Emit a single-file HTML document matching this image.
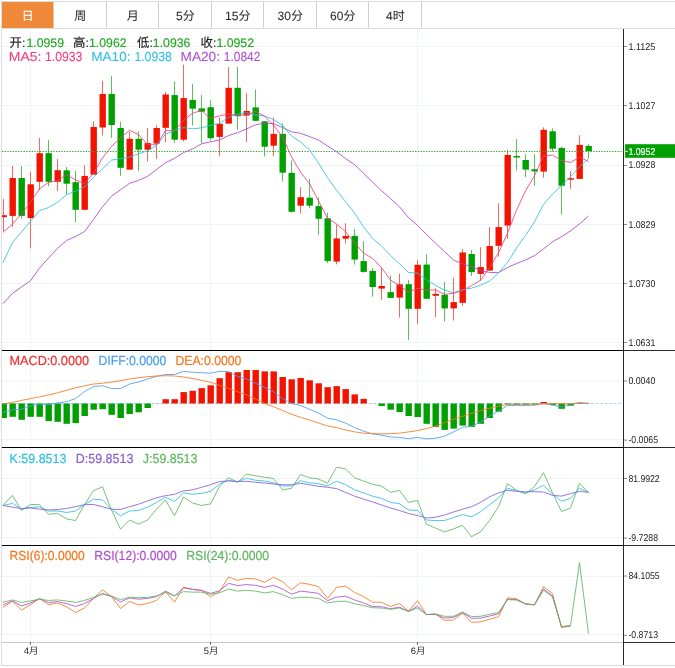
<!DOCTYPE html>
<html lang="zh-CN"><head><meta charset="utf-8"><title>K线图</title>
<style>
html,body{margin:0;padding:0;background:#fff;}
body{width:675px;height:668px;overflow:hidden;}
svg{display:block;}
text{font-family:"Liberation Sans","Noto Sans CJK SC",sans-serif;text-rendering:geometricPrecision;}
.tab{font-size:12px;fill:#2e2e2e;stroke:#2e2e2e;stroke-width:0.08px;text-anchor:middle;}
.inf{font-size:13.1px;stroke-width:0.22px;}
.inf1{font-size:12.4px;stroke-width:0.15px;}
.inf2{font-size:13.1px;stroke-width:0.1px;}
.ax{font-size:9.9px;fill:#1c1c1c;}
.ln{fill:none;stroke-linejoin:round;stroke-linecap:butt;}
</style></head><body>
<svg width="675" height="668" viewBox="0 0 675 668">
<rect x="0" y="0" width="675" height="668" fill="#fff"/>
<g stroke="#edf3f7" stroke-width="1" fill="none">
<line x1="2" y1="46.5" x2="623" y2="46.5"/>
<line x1="2" y1="105.5" x2="623" y2="105.5"/>
<line x1="2" y1="165.5" x2="623" y2="165.5"/>
<line x1="2" y1="224.5" x2="623" y2="224.5"/>
<line x1="2" y1="283.5" x2="623" y2="283.5"/>
<line x1="2" y1="342.5" x2="623" y2="342.5"/>
<line x1="2" y1="381.2" x2="623" y2="381.2"/>
<line x1="2" y1="439.5" x2="623" y2="439.5"/>
<line x1="2" y1="478.5" x2="623" y2="478.5"/>
<line x1="2" y1="537.5" x2="623" y2="537.5"/>
<line x1="2" y1="576.4" x2="623" y2="576.4"/>
<line x1="2" y1="634.5" x2="623" y2="634.5"/>
<line x1="30.5" y1="29" x2="30.5" y2="642"/>
<line x1="210.5" y1="29" x2="210.5" y2="642"/>
<line x1="417.5" y1="29" x2="417.5" y2="642"/>
</g>
<g stroke="#dcdcdc" stroke-width="1" fill="none">
<line x1="1" y1="1.5" x2="675" y2="1.5"/>
<line x1="1" y1="28.5" x2="675" y2="28.5"/>
<line x1="1.5" y1="1" x2="1.5" y2="665.5"/>
<line x1="1" y1="665.5" x2="675" y2="665.5"/>
<line x1="106.5" y1="2" x2="106.5" y2="28" stroke="#cfcfcf"/>
<line x1="158.5" y1="2" x2="158.5" y2="28" stroke="#cfcfcf"/>
<line x1="211.5" y1="2" x2="211.5" y2="28" stroke="#cfcfcf"/>
<line x1="263.5" y1="2" x2="263.5" y2="28" stroke="#cfcfcf"/>
<line x1="316.5" y1="2" x2="316.5" y2="28" stroke="#cfcfcf"/>
<line x1="368.5" y1="2" x2="368.5" y2="28" stroke="#cfcfcf"/>
<line x1="421.5" y1="2" x2="421.5" y2="28" stroke="#cfcfcf"/>
</g>
<line x1="2" y1="642.5" x2="623" y2="642.5" stroke="#c8c8c8" stroke-width="1"/>
<rect x="2" y="2" width="51.5" height="26" fill="#f0883a"/>
<text class="tab" x="27.8" y="20" style="fill:#fff;stroke:#fff">日</text>
<text class="tab" x="80.3" y="20">周</text>
<text class="tab" x="132.8" y="20">月</text>
<text class="tab" x="185.3" y="20">5分</text>
<text class="tab" x="237.8" y="20">15分</text>
<text class="tab" x="290.3" y="20">30分</text>
<text class="tab" x="342.8" y="20">60分</text>
<text class="tab" x="395.3" y="20">4时</text>
<g>
<line x1="3.5" y1="198.8" x2="3.5" y2="231" stroke="#f7685c" stroke-width="1"/>
<rect x="2" y="215.2" width="4.9" height="2" fill="#f21400"/>
<line x1="12.5" y1="166" x2="12.5" y2="226.8" stroke="#f7685c" stroke-width="1"/>
<rect x="9.5" y="178" width="6.4" height="37.9" fill="#f21400"/>
<line x1="21.5" y1="166" x2="21.5" y2="218.6" stroke="#58c258" stroke-width="1"/>
<rect x="18.5" y="178" width="6.4" height="37.9" fill="#00a000"/>
<line x1="30.5" y1="171.6" x2="30.5" y2="248.4" stroke="#f7685c" stroke-width="1"/>
<rect x="27.5" y="184.3" width="6.4" height="33.7" fill="#f21400"/>
<line x1="39.5" y1="138" x2="39.5" y2="189.8" stroke="#f7685c" stroke-width="1"/>
<rect x="36.5" y="153.2" width="6.4" height="28.6" fill="#f21400"/>
<line x1="48.5" y1="140" x2="48.5" y2="186.3" stroke="#58c258" stroke-width="1"/>
<rect x="45.5" y="153.2" width="6.4" height="28.6" fill="#00a000"/>
<line x1="57.5" y1="159" x2="57.5" y2="191" stroke="#f7685c" stroke-width="1"/>
<rect x="54.5" y="170.2" width="6.4" height="11.6" fill="#f21400"/>
<line x1="66.5" y1="167" x2="66.5" y2="194.8" stroke="#58c258" stroke-width="1"/>
<rect x="63.5" y="170.3" width="6.4" height="13.4" fill="#00a000"/>
<line x1="75.5" y1="170.8" x2="75.5" y2="222.3" stroke="#58c258" stroke-width="1"/>
<rect x="72.5" y="182.2" width="6.4" height="27.6" fill="#00a000"/>
<line x1="84.5" y1="165.3" x2="84.5" y2="209.8" stroke="#f7685c" stroke-width="1"/>
<rect x="81.5" y="175.9" width="6.4" height="33.9" fill="#f21400"/>
<line x1="93.5" y1="121.2" x2="93.5" y2="174.6" stroke="#f7685c" stroke-width="1"/>
<rect x="90.5" y="127" width="6.4" height="47.6" fill="#f21400"/>
<line x1="102.5" y1="80.9" x2="102.5" y2="135.6" stroke="#f7685c" stroke-width="1"/>
<rect x="99.5" y="94" width="6.4" height="33.5" fill="#f21400"/>
<line x1="111.5" y1="75.9" x2="111.5" y2="138" stroke="#58c258" stroke-width="1"/>
<rect x="108.5" y="94" width="6.4" height="31" fill="#00a000"/>
<line x1="120.5" y1="121.7" x2="120.5" y2="175.9" stroke="#58c258" stroke-width="1"/>
<rect x="117.5" y="128" width="6.4" height="39.8" fill="#00a000"/>
<line x1="129.5" y1="131.8" x2="129.5" y2="169.6" stroke="#f7685c" stroke-width="1"/>
<rect x="126.5" y="138.8" width="6.4" height="30.8" fill="#f21400"/>
<line x1="138.5" y1="131.3" x2="138.5" y2="170.8" stroke="#58c258" stroke-width="1"/>
<rect x="135.5" y="138.8" width="6.4" height="10.9" fill="#00a000"/>
<line x1="147.5" y1="128" x2="147.5" y2="161.5" stroke="#f7685c" stroke-width="1"/>
<rect x="144.5" y="143.1" width="6.4" height="6.6" fill="#f21400"/>
<line x1="156.5" y1="125" x2="156.5" y2="159" stroke="#f7685c" stroke-width="1"/>
<rect x="153.5" y="128" width="6.4" height="15.6" fill="#f21400"/>
<line x1="165.5" y1="92" x2="165.5" y2="142.2" stroke="#f7685c" stroke-width="1"/>
<rect x="162.5" y="94.5" width="6.4" height="33.3" fill="#f21400"/>
<line x1="174.5" y1="81.4" x2="174.5" y2="142.7" stroke="#58c258" stroke-width="1"/>
<rect x="171.5" y="95.1" width="6.4" height="44.6" fill="#00a000"/>
<line x1="183.5" y1="64.6" x2="183.5" y2="141.4" stroke="#f7685c" stroke-width="1"/>
<rect x="180.5" y="98.1" width="6.4" height="41.6" fill="#f21400"/>
<line x1="192.5" y1="84" x2="192.5" y2="125.6" stroke="#58c258" stroke-width="1"/>
<rect x="189.5" y="99.9" width="6.4" height="8.8" fill="#00a000"/>
<line x1="201.5" y1="94.8" x2="201.5" y2="143.2" stroke="#58c258" stroke-width="1"/>
<rect x="198.5" y="108.4" width="6.4" height="3.3" fill="#00a000"/>
<line x1="210.5" y1="100.4" x2="210.5" y2="140.7" stroke="#58c258" stroke-width="1"/>
<rect x="207.5" y="107.2" width="6.4" height="31" fill="#00a000"/>
<line x1="219.5" y1="117.5" x2="219.5" y2="156.3" stroke="#f7685c" stroke-width="1"/>
<rect x="216.5" y="123.8" width="6.4" height="13.1" fill="#f21400"/>
<line x1="228.5" y1="67.1" x2="228.5" y2="123.6" stroke="#f7685c" stroke-width="1"/>
<rect x="225.5" y="87.8" width="6.4" height="35.8" fill="#f21400"/>
<line x1="237.5" y1="67.1" x2="237.5" y2="130.1" stroke="#58c258" stroke-width="1"/>
<rect x="234.5" y="87.8" width="6.4" height="28.4" fill="#00a000"/>
<line x1="246.5" y1="93.3" x2="246.5" y2="141.9" stroke="#f7685c" stroke-width="1"/>
<rect x="243.5" y="111" width="6.4" height="4.5" fill="#f21400"/>
<line x1="255.5" y1="89.5" x2="255.5" y2="120.8" stroke="#58c258" stroke-width="1"/>
<rect x="252.5" y="107.4" width="6.4" height="13.4" fill="#00a000"/>
<line x1="264.5" y1="121.3" x2="264.5" y2="156.5" stroke="#58c258" stroke-width="1"/>
<rect x="261.5" y="121.3" width="6.4" height="25.4" fill="#00a000"/>
<line x1="273.5" y1="117.5" x2="273.5" y2="156.3" stroke="#f7685c" stroke-width="1"/>
<rect x="270.5" y="133.9" width="6.4" height="11.8" fill="#f21400"/>
<line x1="282.5" y1="123.6" x2="282.5" y2="181.5" stroke="#58c258" stroke-width="1"/>
<rect x="279.5" y="133.9" width="6.4" height="38.8" fill="#00a000"/>
<line x1="291.5" y1="160.3" x2="291.5" y2="212.5" stroke="#58c258" stroke-width="1"/>
<rect x="288.5" y="172.9" width="6.4" height="38.9" fill="#00a000"/>
<line x1="300.5" y1="187.1" x2="300.5" y2="213.4" stroke="#f7685c" stroke-width="1"/>
<rect x="297.5" y="197.2" width="6.4" height="8.5" fill="#f21400"/>
<line x1="309.5" y1="179" x2="309.5" y2="208.4" stroke="#58c258" stroke-width="1"/>
<rect x="306.5" y="197.7" width="6.4" height="8" fill="#00a000"/>
<line x1="318.5" y1="197.5" x2="318.5" y2="234.9" stroke="#58c258" stroke-width="1"/>
<rect x="315.5" y="206.1" width="6.4" height="12.7" fill="#00a000"/>
<line x1="327.5" y1="212.7" x2="327.5" y2="263.1" stroke="#58c258" stroke-width="1"/>
<rect x="324.5" y="218.3" width="6.4" height="42.8" fill="#00a000"/>
<line x1="336.5" y1="224.8" x2="336.5" y2="264.4" stroke="#f7685c" stroke-width="1"/>
<rect x="333.5" y="238.4" width="6.4" height="23.2" fill="#f21400"/>
<line x1="345.5" y1="223.3" x2="345.5" y2="243.5" stroke="#f7685c" stroke-width="1"/>
<rect x="342.5" y="235.9" width="6.4" height="2.8" fill="#f21400"/>
<line x1="354.5" y1="229.1" x2="354.5" y2="264.6" stroke="#58c258" stroke-width="1"/>
<rect x="351.5" y="235.9" width="6.4" height="23.7" fill="#00a000"/>
<line x1="363.5" y1="241.2" x2="363.5" y2="272.7" stroke="#58c258" stroke-width="1"/>
<rect x="360.5" y="261.1" width="6.4" height="10.8" fill="#00a000"/>
<line x1="372.5" y1="268.2" x2="372.5" y2="296.6" stroke="#58c258" stroke-width="1"/>
<rect x="369.5" y="270.9" width="6.4" height="16.1" fill="#00a000"/>
<line x1="381.5" y1="267.2" x2="381.5" y2="299.9" stroke="#f7685c" stroke-width="1"/>
<rect x="378.5" y="286" width="6.4" height="2.6" fill="#f21400"/>
<line x1="390.5" y1="275.7" x2="390.5" y2="297.9" stroke="#58c258" stroke-width="1"/>
<rect x="387.5" y="292.1" width="6.4" height="5.8" fill="#00a000"/>
<line x1="399.5" y1="273.7" x2="399.5" y2="317.5" stroke="#f7685c" stroke-width="1"/>
<rect x="396.5" y="284.3" width="6.4" height="13.3" fill="#f21400"/>
<line x1="408.5" y1="280.1" x2="408.5" y2="340" stroke="#58c258" stroke-width="1"/>
<rect x="405.5" y="284.2" width="6.4" height="24.6" fill="#00a000"/>
<line x1="417.5" y1="260" x2="417.5" y2="324.2" stroke="#f7685c" stroke-width="1"/>
<rect x="414.5" y="264.8" width="6.4" height="44" fill="#f21400"/>
<line x1="426.5" y1="254.2" x2="426.5" y2="298.8" stroke="#58c258" stroke-width="1"/>
<rect x="423.5" y="264.6" width="6.4" height="34.2" fill="#00a000"/>
<line x1="435.5" y1="288.2" x2="435.5" y2="317.2" stroke="#f7685c" stroke-width="1"/>
<rect x="432.5" y="293.8" width="6.4" height="2" fill="#f21400"/>
<line x1="444.5" y1="281.9" x2="444.5" y2="321.5" stroke="#58c258" stroke-width="1"/>
<rect x="441.5" y="294.8" width="6.4" height="13.6" fill="#00a000"/>
<line x1="453.5" y1="277.7" x2="453.5" y2="320.5" stroke="#f7685c" stroke-width="1"/>
<rect x="450.5" y="302.1" width="6.4" height="6.3" fill="#f21400"/>
<line x1="462.5" y1="249.2" x2="462.5" y2="305.9" stroke="#f7685c" stroke-width="1"/>
<rect x="459.5" y="252.5" width="6.4" height="50.3" fill="#f21400"/>
<line x1="471.5" y1="250" x2="471.5" y2="276.1" stroke="#58c258" stroke-width="1"/>
<rect x="468.5" y="254" width="6.4" height="18.1" fill="#00a000"/>
<line x1="480.5" y1="247.2" x2="480.5" y2="280.7" stroke="#f7685c" stroke-width="1"/>
<rect x="477.5" y="267.1" width="6.4" height="6.8" fill="#f21400"/>
<line x1="489.5" y1="227.1" x2="489.5" y2="270.6" stroke="#f7685c" stroke-width="1"/>
<rect x="486.5" y="246" width="6.4" height="24.6" fill="#f21400"/>
<line x1="498.5" y1="203.3" x2="498.5" y2="256.5" stroke="#f7685c" stroke-width="1"/>
<rect x="495.5" y="227.1" width="6.4" height="18.7" fill="#f21400"/>
<line x1="507.5" y1="150" x2="507.5" y2="238.8" stroke="#f7685c" stroke-width="1"/>
<rect x="504.5" y="155" width="6.4" height="70.6" fill="#f21400"/>
<line x1="516.5" y1="139.1" x2="516.5" y2="170.6" stroke="#58c258" stroke-width="1"/>
<rect x="513.5" y="156" width="6.4" height="1.5" fill="#00a000"/>
<line x1="525.5" y1="154.2" x2="525.5" y2="176.9" stroke="#58c258" stroke-width="1"/>
<rect x="522.5" y="160" width="6.4" height="9.6" fill="#00a000"/>
<line x1="534.5" y1="154.2" x2="534.5" y2="185.7" stroke="#58c258" stroke-width="1"/>
<rect x="531.5" y="169.3" width="6.4" height="2.1" fill="#00a000"/>
<line x1="543.5" y1="127.3" x2="543.5" y2="177.7" stroke="#f7685c" stroke-width="1"/>
<rect x="540.5" y="129.8" width="6.4" height="41.8" fill="#f21400"/>
<line x1="552.5" y1="128.3" x2="552.5" y2="151.7" stroke="#58c258" stroke-width="1"/>
<rect x="549.5" y="131.3" width="6.4" height="17.4" fill="#00a000"/>
<line x1="561.5" y1="146.7" x2="561.5" y2="214.7" stroke="#58c258" stroke-width="1"/>
<rect x="558.5" y="147.9" width="6.4" height="37.8" fill="#00a000"/>
<line x1="570.5" y1="171.1" x2="570.5" y2="188.7" stroke="#f7685c" stroke-width="1"/>
<rect x="567.5" y="178.2" width="6.4" height="1.5" fill="#f21400"/>
<line x1="579.5" y1="135.3" x2="579.5" y2="178.9" stroke="#f7685c" stroke-width="1"/>
<rect x="576.5" y="144.9" width="6.4" height="34" fill="#f21400"/>
<line x1="588.5" y1="144.2" x2="588.5" y2="158.5" stroke="#58c258" stroke-width="1"/>
<rect x="585.5" y="145.9" width="6.4" height="5.3" fill="#00a000"/>
</g>
<line x1="2" y1="151.5" x2="627" y2="151.5" stroke="#1faa1f" stroke-width="1" stroke-dasharray="1.3 1.4"/>
<polyline class="ln" points="2.8,303.9 12.5,293.3 21.5,287 30.5,280.7 39.5,268.1 48.5,258 57.5,248.4 66.5,240.4 75.5,236.6 84.5,231.6 93.5,219.5 102.5,206.8 111.5,196.2 120.5,189.8 129.5,183.4 138.5,180.4 147.5,176.4 156.5,169.6 165.5,162.7 174.5,158.39 183.5,152.56 192.5,148.93 201.5,143.82 210.5,141.77 219.5,140.04 228.5,135.54 237.5,132.69 246.5,128.97 255.5,124.75 264.5,123.12 273.5,123.58 282.5,127.55 291.5,131.82 300.5,133.31 309.5,136.58 318.5,140.06 327.5,145.91 336.5,151.62 345.5,158.6 354.5,164.5 363.5,173.35 372.5,182.1 381.5,190.71 390.5,198.6 399.5,206.87 408.5,217.74 417.5,225.41 426.5,234.45 435.5,243.18 444.5,251.62 453.5,259.98 462.5,263.87 471.5,266.53 480.5,270.52 489.5,272.43 498.5,272.64 507.5,267.44 516.5,263.57 525.5,260.01 534.5,255.65 543.5,248.85 552.5,241.79 561.5,236.69 570.5,230.89 579.5,223.91 588.5,215.97" stroke="#aa48c8" stroke-width="0.86"/>
<polyline class="ln" points="2.8,263 12.5,242.4 21.5,232 30.5,221.3 39.5,210.6 48.5,207.6 57.5,202.4 66.5,194.6 75.5,191.2 84.5,186.85 93.5,177.39 102.5,168.79 111.5,160.09 120.5,158.62 129.5,157.05 138.5,153.79 147.5,150.94 156.5,145.6 165.5,134.24 174.5,130.53 183.5,127.59 192.5,128.82 201.5,127.85 210.5,125.17 219.5,123.53 228.5,117.28 237.5,114.28 246.5,112.67 255.5,115 264.5,116 273.5,119.44 282.5,125.49 291.5,135.99 300.5,141.94 309.5,149.89 318.5,163.09 327.5,177.58 336.5,190.2 345.5,201.66 354.5,213 363.5,226.81 372.5,238.42 381.5,245.93 390.5,255.47 399.5,263.8 408.5,272.5 417.5,273.13 426.5,279.7 435.5,285.35 444.5,290.08 453.5,292.69 462.5,289.72 471.5,288.12 480.5,285.09 489.5,281.17 498.5,273.04 507.5,262.5 516.5,247.86 525.5,235.57 534.5,221.77 543.5,204.41 552.5,194.16 561.5,185.59 570.5,176.75 579.5,166.65 588.5,158.7" stroke="#30c0e0" stroke-width="0.86"/>
<polyline class="ln" points="2.8,232.5 12.5,224 21.5,214 30.5,202.2 39.5,188.91 48.5,182.42 57.5,180.89 66.5,174.47 75.5,179.92 84.5,183.69 93.5,173.21 102.5,157.99 111.5,146.47 120.5,137.87 129.5,130.36 138.5,134.53 147.5,144.58 156.5,144.79 165.5,130.76 174.5,130.65 183.5,120.38 192.5,113.25 201.5,110.37 210.5,118.49 219.5,115.9 228.5,113.97 237.5,115.12 246.5,115.1 255.5,111.41 264.5,116.1 273.5,125.21 282.5,136.72 291.5,156.88 300.5,172.08 309.5,183.63 318.5,200.94 327.5,218.21 336.5,223.97 345.5,231.64 354.5,242.73 363.5,253.04 372.5,258.43 381.5,267.74 390.5,280.09 399.5,285.46 408.5,292.25 417.5,288.28 426.5,290.16 435.5,289.9 444.5,294.31 453.5,293.29 462.5,290.56 471.5,285.59 480.5,280.17 489.5,267.83 498.5,252.66 507.5,233.16 516.5,210.24 525.5,190.87 534.5,175.71 543.5,156.18 552.5,155.05 561.5,160.62 570.5,162.48 579.5,157.33 588.5,161.37" stroke="#f04080" stroke-width="0.86"/>
<line x1="2.2" y1="403.5" x2="621" y2="403.5" stroke="#a4d6f6" stroke-width="1" stroke-dasharray="2.7 1.83"/>
<g>
<rect x="2" y="403.5" width="4.9" height="14.5" fill="#00a000"/>
<rect x="9.5" y="403.5" width="6.4" height="13.3" fill="#00a000"/>
<rect x="18.5" y="403.5" width="6.4" height="16.3" fill="#00a000"/>
<rect x="27.5" y="403.5" width="6.4" height="13.3" fill="#00a000"/>
<rect x="36.5" y="403.5" width="6.4" height="13.3" fill="#00a000"/>
<rect x="45.5" y="403.5" width="6.4" height="17.6" fill="#00a000"/>
<rect x="54.5" y="403.5" width="6.4" height="18.3" fill="#00a000"/>
<rect x="63.5" y="403.5" width="6.4" height="20.3" fill="#00a000"/>
<rect x="72.5" y="403.5" width="6.4" height="19.6" fill="#00a000"/>
<rect x="81.5" y="403.5" width="6.4" height="12.5" fill="#00a000"/>
<rect x="90.5" y="403.5" width="6.4" height="6.2" fill="#00a000"/>
<rect x="99.5" y="403.5" width="6.4" height="5.7" fill="#00a000"/>
<rect x="108.5" y="403.5" width="6.4" height="11.3" fill="#00a000"/>
<rect x="117.5" y="403.5" width="6.4" height="14.5" fill="#00a000"/>
<rect x="126.5" y="403.5" width="6.4" height="10.5" fill="#00a000"/>
<rect x="135.5" y="403.5" width="6.4" height="8.8" fill="#00a000"/>
<rect x="144.5" y="403.5" width="6.4" height="4.5" fill="#00a000"/>
<rect x="153.5" y="403.4" width="6.4" height="0.1" fill="#f21400"/>
<rect x="162.5" y="399.2" width="6.4" height="4.3" fill="#f21400"/>
<rect x="171.5" y="399.2" width="6.4" height="4.3" fill="#f21400"/>
<rect x="180.5" y="392.1" width="6.4" height="11.4" fill="#f21400"/>
<rect x="189.5" y="390.8" width="6.4" height="12.7" fill="#f21400"/>
<rect x="198.5" y="388.1" width="6.4" height="15.4" fill="#f21400"/>
<rect x="207.5" y="385.3" width="6.4" height="18.2" fill="#f21400"/>
<rect x="216.5" y="378.2" width="6.4" height="25.3" fill="#f21400"/>
<rect x="225.5" y="372.2" width="6.4" height="31.3" fill="#f21400"/>
<rect x="234.5" y="372.2" width="6.4" height="31.3" fill="#f21400"/>
<rect x="243.5" y="370" width="6.4" height="33.5" fill="#f21400"/>
<rect x="252.5" y="370" width="6.4" height="33.5" fill="#f21400"/>
<rect x="261.5" y="371.4" width="6.4" height="32.1" fill="#f21400"/>
<rect x="270.5" y="371.4" width="6.4" height="32.1" fill="#f21400"/>
<rect x="279.5" y="377" width="6.4" height="26.5" fill="#f21400"/>
<rect x="288.5" y="379.3" width="6.4" height="24.2" fill="#f21400"/>
<rect x="297.5" y="378" width="6.4" height="25.5" fill="#f21400"/>
<rect x="306.5" y="380.3" width="6.4" height="23.2" fill="#f21400"/>
<rect x="315.5" y="383.3" width="6.4" height="20.2" fill="#f21400"/>
<rect x="324.5" y="387.2" width="6.4" height="16.3" fill="#f21400"/>
<rect x="333.5" y="386.1" width="6.4" height="17.4" fill="#f21400"/>
<rect x="342.5" y="389.1" width="6.4" height="14.4" fill="#f21400"/>
<rect x="351.5" y="394.4" width="6.4" height="9.1" fill="#f21400"/>
<rect x="360.5" y="398.9" width="6.4" height="4.6" fill="#f21400"/>
<rect x="369.5" y="403.4" width="6.4" height="0.1" fill="#f21400"/>
<rect x="378.5" y="403.5" width="6.4" height="2.5" fill="#00a000"/>
<rect x="387.5" y="403.5" width="6.4" height="6.2" fill="#00a000"/>
<rect x="396.5" y="403.5" width="6.4" height="8.5" fill="#00a000"/>
<rect x="405.5" y="403.5" width="6.4" height="12.5" fill="#00a000"/>
<rect x="414.5" y="403.5" width="6.4" height="13.5" fill="#00a000"/>
<rect x="423.5" y="403.5" width="6.4" height="20.3" fill="#00a000"/>
<rect x="432.5" y="403.5" width="6.4" height="23.4" fill="#00a000"/>
<rect x="441.5" y="403.5" width="6.4" height="26.4" fill="#00a000"/>
<rect x="450.5" y="403.5" width="6.4" height="25.1" fill="#00a000"/>
<rect x="459.5" y="403.5" width="6.4" height="22.1" fill="#00a000"/>
<rect x="468.5" y="403.5" width="6.4" height="23.4" fill="#00a000"/>
<rect x="477.5" y="403.5" width="6.4" height="20.3" fill="#00a000"/>
<rect x="486.5" y="403.5" width="6.4" height="14.5" fill="#00a000"/>
<rect x="495.5" y="403.5" width="6.4" height="8.2" fill="#00a000"/>
<rect x="504.5" y="403.5" width="6.4" height="0.9" fill="#00a000"/>
<rect x="513.5" y="403.5" width="6.4" height="1.1" fill="#00a000"/>
<rect x="522.5" y="403.5" width="6.4" height="1.1" fill="#00a000"/>
<rect x="531.5" y="403.5" width="6.4" height="1.1" fill="#00a000"/>
<rect x="540.5" y="402" width="6.4" height="1.5" fill="#f21400"/>
<rect x="549.5" y="403.5" width="6.4" height="1.5" fill="#00a000"/>
<rect x="558.5" y="403.5" width="6.4" height="5.3" fill="#00a000"/>
<rect x="567.5" y="403.5" width="6.4" height="2.2" fill="#00a000"/>
<rect x="576.5" y="403" width="6.4" height="0.5" fill="#f21400"/>
<rect x="585.5" y="403.4" width="6.4" height="0.1" fill="#f21400"/>
</g>
<polyline class="ln" points="2.8,412.5 12.5,409.73 21.5,409.22 30.5,405.95 39.5,404.19 48.5,404.69 57.5,402.93 66.5,401.67 75.5,398.64 84.5,391.59 93.5,386.56 102.5,385.8 111.5,388.57 120.5,388.57 129.5,384.04 138.5,382.02 147.5,379 156.5,376.48 165.5,374.47 174.5,374.47 183.5,371.44 192.5,372.2 201.5,372.7 210.5,373.21 219.5,371.44 228.5,371.44 237.5,376.48 246.5,379 255.5,383.28 264.5,387.31 273.5,391.59 282.5,398.64 291.5,403.43 300.5,405.44 309.5,409.22 318.5,413 327.5,418.29 336.5,419.8 345.5,423.07 354.5,427.61 363.5,431.13 372.5,433.9 381.5,435.16 390.5,436.93 399.5,437.43 408.5,438.69 417.5,437.43 426.5,438.94 435.5,438.19 444.5,436.17 453.5,431.89 462.5,427.36 471.5,426.35 480.5,421.81 489.5,416.27 498.5,410.99 507.5,405.44 516.5,405.44 525.5,405.44 534.5,405.19 543.5,403.43 552.5,405.19 561.5,406.96 570.5,404.44 579.5,402.42 588.5,403.43" stroke="#4aa0f0" stroke-width="0.86"/>
<polyline class="ln" points="2.8,404.19 12.5,402.42 21.5,400.41 30.5,398.64 39.5,396.88 48.5,394.87 57.5,392.85 66.5,390.33 75.5,387.81 84.5,385.8 93.5,384.04 102.5,383.28 111.5,382.02 120.5,380.76 129.5,379 138.5,377.74 147.5,376.73 156.5,375.98 165.5,375.73 174.5,375.98 183.5,376.99 192.5,378.5 201.5,380.26 210.5,382.27 219.5,385.3 228.5,388.32 237.5,391.59 246.5,394.87 255.5,399.15 264.5,403.43 273.5,406.7 282.5,410.48 291.5,414.26 300.5,417.28 309.5,420.05 318.5,423.07 327.5,425.84 336.5,427.61 345.5,429.87 354.5,431.89 363.5,433.15 372.5,433.65 381.5,433.9 390.5,433.65 399.5,433.15 408.5,431.89 417.5,430.63 426.5,428.61 435.5,426.1 444.5,422.57 453.5,419.3 462.5,416.27 471.5,413.5 480.5,410.48 489.5,408.21 498.5,406.2 507.5,404.44 516.5,404.19 525.5,404.19 534.5,404.19 543.5,403.93 552.5,403.81 561.5,403.93 570.5,403.68 579.5,403.43 588.5,403.43" stroke="#f57820" stroke-width="0.86"/>
<polyline class="ln" points="2.8,505.44 12.5,495.37 21.5,510.48 30.5,504.44 39.5,504.69 48.5,514.26 57.5,513.5 66.5,518.79 75.5,520.56 84.5,504.69 93.5,490.59 102.5,486.81 111.5,509.98 120.5,529.12 129.5,520.05 138.5,524.08 147.5,520.05 156.5,509.22 165.5,499.9 174.5,515.77 183.5,497.13 192.5,502.93 201.5,505.44 210.5,503.93 219.5,486.56 228.5,477.74 237.5,482.27 246.5,474.21 255.5,475.73 264.5,477.24 273.5,478.5 282.5,489.83 291.5,488.32 300.5,474.47 309.5,477.74 318.5,479 327.5,483.28 336.5,467.16 345.5,468.93 354.5,477.74 363.5,481.01 372.5,484.29 381.5,486.05 390.5,492.35 399.5,490.33 408.5,502.42 417.5,500.41 426.5,524.33 435.5,528.11 444.5,531.89 453.5,528.87 462.5,525.34 471.5,536.67 480.5,531.89 489.5,520.56 498.5,506.7 507.5,483.53 516.5,490.33 525.5,493.86 534.5,486.56 543.5,472.7 552.5,492.85 561.5,511.49 570.5,507.96 579.5,483.28 588.5,492.35" stroke="#60b860" stroke-width="0.86"/>
<polyline class="ln" points="2.8,505.44 12.5,503.43 21.5,509.22 30.5,507.46 39.5,506.96 48.5,510.99 57.5,510.99 66.5,512.5 75.5,510.99 84.5,504.69 93.5,499.15 102.5,499.9 111.5,509.22 120.5,515.77 129.5,510.99 138.5,510.48 147.5,507.21 156.5,502.42 165.5,497.13 174.5,501.41 183.5,492.85 192.5,494.36 201.5,493.36 210.5,491.34 219.5,484.04 228.5,480.26 237.5,481.77 246.5,478.24 255.5,480.26 264.5,481.01 273.5,482.78 282.5,486.05 291.5,485.8 300.5,480.76 309.5,482.78 318.5,483.79 327.5,485.8 336.5,481.27 345.5,484.54 354.5,489.83 363.5,492.85 372.5,496.13 381.5,498.39 390.5,502.42 399.5,503.68 408.5,509.98 417.5,510.48 426.5,520.05 435.5,520.56 444.5,520.56 453.5,517.53 462.5,514.51 471.5,516.78 480.5,511.74 489.5,504.94 498.5,497.89 507.5,488.32 516.5,490.59 525.5,492.85 534.5,489.83 543.5,485.3 552.5,494.11 561.5,501.16 570.5,498.39 579.5,488.32 588.5,492.35" stroke="#30c0e0" stroke-width="0.86"/>
<polyline class="ln" points="2.8,505.44 12.5,507.21 21.5,508.47 30.5,507.96 39.5,509.22 48.5,509.98 57.5,509.47 66.5,508.47 75.5,506.7 84.5,504.69 93.5,504.44 102.5,506.7 111.5,509.22 120.5,509.47 129.5,506.7 138.5,504.19 147.5,500.91 156.5,497.89 165.5,495.62 174.5,494.36 183.5,490.84 192.5,489.83 201.5,487.31 210.5,484.79 219.5,481.52 228.5,481.01 237.5,481.52 246.5,481.27 255.5,482.27 264.5,483.03 273.5,484.04 282.5,484.79 291.5,484.79 300.5,483.28 309.5,484.79 318.5,486.3 327.5,487.31 336.5,488.57 345.5,492.35 354.5,496.13 363.5,499.15 372.5,501.92 381.5,504.94 390.5,507.96 399.5,510.48 408.5,513.5 417.5,515.52 426.5,518.04 435.5,517.28 444.5,515.01 453.5,511.99 462.5,509.22 471.5,506.7 480.5,502.42 489.5,496.88 498.5,492.85 507.5,490.33 516.5,491.34 525.5,491.84 534.5,491.59 543.5,492.1 552.5,495.37 561.5,496.13 570.5,493.61 579.5,491.34 588.5,492.35" stroke="#8860d0" stroke-width="0.86"/>
<polyline class="ln" points="2.8,607.5 12.5,601.2 21.5,610.01 30.5,604.73 39.5,598.43 48.5,604.73 57.5,602.96 66.5,606.74 75.5,612.53 84.5,608 93.5,598.43 102.5,589.87 111.5,596.67 120.5,608.5 129.5,601.45 138.5,604.98 147.5,603.47 156.5,600.44 165.5,591.63 174.5,602.21 183.5,587.1 192.5,589.36 201.5,590.37 210.5,596.67 219.5,591.63 228.5,577.02 237.5,580.3 246.5,578.28 255.5,579.04 264.5,582.31 273.5,577.27 282.5,581.56 291.5,589.87 300.5,582.81 309.5,584.33 318.5,586.59 327.5,598.43 336.5,587.35 345.5,586.09 354.5,592.39 363.5,596.67 372.5,602.21 381.5,602.21 390.5,606.49 399.5,603.47 408.5,611.02 417.5,600.7 426.5,614.55 435.5,614.04 444.5,620.34 453.5,620.09 462.5,613.04 471.5,622.36 480.5,621.85 489.5,619.33 498.5,616.81 507.5,597.93 516.5,598.68 525.5,603.97 534.5,604.98 543.5,586.59 552.5,593.64 561.5,627.39 570.5,626.13" stroke="#f57820" stroke-width="0.86"/>
<polyline class="ln" points="2.8,604.98 12.5,600.95 21.5,605.99 30.5,602.96 39.5,598.68 48.5,602.46 57.5,601.7 66.5,603.47 75.5,606.49 84.5,603.47 93.5,598.43 102.5,593.39 111.5,596.67 120.5,601.96 129.5,597.93 138.5,599.19 147.5,598.43 156.5,596.67 165.5,591.13 174.5,595.91 183.5,587.85 192.5,589.36 201.5,590.37 210.5,593.39 219.5,590.87 228.5,583.32 237.5,585.59 246.5,584.58 255.5,585.33 264.5,587.35 273.5,585.33 282.5,589.11 291.5,594.15 300.5,591.13 309.5,592.13 318.5,593.39 327.5,600.7 336.5,597.17 345.5,596.16 354.5,599.94 363.5,602.96 372.5,606.49 381.5,606.74 390.5,608.76 399.5,607.24 408.5,611.27 417.5,606.24 426.5,614.55 435.5,614.3 444.5,618.07 453.5,617.57 462.5,612.53 471.5,618.33 480.5,618.07 489.5,616.06 498.5,613.79 507.5,599.19 516.5,599.69 525.5,603.97 534.5,604.73 543.5,588.86 552.5,595.91 561.5,626.89 570.5,625.63" stroke="#b050d0" stroke-width="0.86"/>
<polyline class="ln" points="2.8,602.21 12.5,599.94 21.5,602.46 30.5,600.95 39.5,599.19 48.5,600.44 57.5,599.94 66.5,600.95 75.5,602.46 84.5,600.44 93.5,597.42 102.5,594.15 111.5,595.91 120.5,599.69 129.5,597.17 138.5,597.67 147.5,597.42 156.5,595.91 165.5,592.39 174.5,595.91 183.5,591.63 192.5,592.13 201.5,592.13 210.5,594.15 219.5,592.89 228.5,589.11 237.5,591.13 246.5,590.37 255.5,591.13 264.5,592.89 273.5,591.63 282.5,594.65 291.5,598.43 300.5,597.17 309.5,597.42 318.5,598.43 327.5,602.96 336.5,601.45 345.5,601.2 354.5,603.72 363.5,605.48 372.5,607.75 381.5,608 390.5,609.26 399.5,608 408.5,611.53 417.5,608 426.5,614.55 435.5,614.04 444.5,616.31 453.5,616.31 462.5,612.03 471.5,616.56 480.5,616.31 489.5,614.3 498.5,612.53 507.5,599.69 516.5,599.94 525.5,603.97 534.5,604.73 543.5,590.37 552.5,596.67 561.5,626.64 570.5,625.63 579.5,562.67 588.5,633.69" stroke="#60b860" stroke-width="0.86"/>
<g stroke="#2a2a2a" stroke-width="1" fill="none">
<line x1="2" y1="350.5" x2="623" y2="350.5" stroke="#000" stroke-width="1.15"/>
<line x1="623" y1="350.5" x2="675" y2="350.5"/>
<line x1="2" y1="447.5" x2="623" y2="447.5" stroke="#000" stroke-width="1.15"/>
<line x1="623" y1="447.5" x2="675" y2="447.5"/>
<line x1="2" y1="545.5" x2="623" y2="545.5" stroke="#000" stroke-width="1.15"/>
<line x1="623" y1="545.5" x2="675" y2="545.5"/>
<line x1="623.5" y1="29" x2="623.5" y2="665"/>
<line x1="623.5" y1="642.5" x2="675" y2="642.5"/>
<line x1="624" y1="46.5" x2="627" y2="46.5" stroke="#8a8a8a"/>
<line x1="624" y1="105.5" x2="627" y2="105.5" stroke="#8a8a8a"/>
<line x1="624" y1="165.5" x2="627" y2="165.5" stroke="#8a8a8a"/>
<line x1="624" y1="224.5" x2="627" y2="224.5" stroke="#8a8a8a"/>
<line x1="624" y1="283.5" x2="627" y2="283.5" stroke="#8a8a8a"/>
<line x1="624" y1="342.5" x2="627" y2="342.5" stroke="#8a8a8a"/>
<line x1="624" y1="381.0" x2="627" y2="381.0" stroke="#8a8a8a"/>
<line x1="624" y1="440.1" x2="627" y2="440.1" stroke="#8a8a8a"/>
<line x1="624" y1="478.5" x2="627" y2="478.5" stroke="#8a8a8a"/>
<line x1="624" y1="538.0" x2="627" y2="538.0" stroke="#8a8a8a"/>
<line x1="624" y1="576.0" x2="627" y2="576.0" stroke="#8a8a8a"/>
<line x1="624" y1="635.3" x2="627" y2="635.3" stroke="#8a8a8a"/>
<line x1="30.5" y1="642" x2="30.5" y2="644.8" stroke="#555" stroke-width="0.9"/>
<line x1="210.5" y1="642" x2="210.5" y2="644.8" stroke="#555" stroke-width="0.9"/>
<line x1="417.5" y1="642" x2="417.5" y2="644.8" stroke="#555" stroke-width="0.9"/>
</g>
<text class="ax" x="628.4" y="50" textLength="26.9" lengthAdjust="spacingAndGlyphs">1.1125</text>
<text class="ax" x="628.4" y="109" textLength="26.9" lengthAdjust="spacingAndGlyphs">1.1027</text>
<text class="ax" x="628.4" y="167.85" textLength="26.9" lengthAdjust="spacingAndGlyphs">1.0928</text>
<text class="ax" x="628.4" y="227.5" textLength="26.9" lengthAdjust="spacingAndGlyphs">1.0829</text>
<text class="ax" x="628.4" y="287" textLength="26.9" lengthAdjust="spacingAndGlyphs">1.0730</text>
<text class="ax" x="628.4" y="345.9" textLength="26.9" lengthAdjust="spacingAndGlyphs">1.0631</text>
<text class="ax" x="628.4" y="384.15" textLength="26.9" lengthAdjust="spacingAndGlyphs">0.0040</text>
<text class="ax" x="628.4" y="443.2" textLength="29.6" lengthAdjust="spacingAndGlyphs">-0.0065</text>
<text class="ax" x="628.4" y="481.6" textLength="31.3" lengthAdjust="spacingAndGlyphs">81.9922</text>
<text class="ax" x="628.4" y="541.2" textLength="29.6" lengthAdjust="spacingAndGlyphs">-9.7288</text>
<text class="ax" x="628.4" y="579.15" textLength="31.3" lengthAdjust="spacingAndGlyphs">84.1055</text>
<text class="ax" x="628.4" y="638.15" textLength="29.6" lengthAdjust="spacingAndGlyphs">-0.8713</text>
<rect x="625.1" y="144.2" width="50" height="13.6" fill="#00a000"/>
<line x1="625.1" y1="151.4" x2="627.8" y2="151.4" stroke="#fff" stroke-width="1"/>
<text class="ax" x="628.4" y="154.8" style="fill:#fff;stroke:#fff;stroke-width:0.2px" textLength="26.9" lengthAdjust="spacingAndGlyphs">1.0952</text>
<text class="ax" x="31.1" y="653.8" text-anchor="middle" style="font-size:9.4px">4月</text>
<text class="ax" x="211.1" y="653.8" text-anchor="middle" style="font-size:9.4px">5月</text>
<text class="ax" x="418.1" y="653.8" text-anchor="middle" style="font-size:9.4px">6月</text>
<text class="inf1" x="9.6" y="46.5" fill="#222" stroke="#222">开:</text>
<text class="inf1" x="26.4" y="46.5" fill="#1fa81f" stroke="#1fa81f" textLength="37.6" lengthAdjust="spacingAndGlyphs">1.0959</text>
<text class="inf1" x="73" y="46.5" fill="#222" stroke="#222">高:</text>
<text class="inf1" x="89" y="46.5" fill="#1fa81f" stroke="#1fa81f" textLength="37.6" lengthAdjust="spacingAndGlyphs">1.0962</text>
<text class="inf1" x="137" y="46.5" fill="#222" stroke="#222">低:</text>
<text class="inf1" x="152.8" y="46.5" fill="#1fa81f" stroke="#1fa81f" textLength="37.6" lengthAdjust="spacingAndGlyphs">1.0936</text>
<text class="inf1" x="200.6" y="46.5" fill="#222" stroke="#222">收:</text>
<text class="inf1" x="216.4" y="46.5" fill="#1fa81f" stroke="#1fa81f" textLength="37.6" lengthAdjust="spacingAndGlyphs">1.0952</text>
<text class="inf2" x="8.8" y="61" fill="#f04080" stroke="#f04080" textLength="32.7" lengthAdjust="spacingAndGlyphs">MA5:</text>
<text class="inf2" x="45" y="61" fill="#f04080" stroke="#f04080" textLength="37.4" lengthAdjust="spacingAndGlyphs">1.0933</text>
<text class="inf2" x="91.2" y="61" fill="#30c0e0" stroke="#30c0e0" textLength="39.3" lengthAdjust="spacingAndGlyphs">MA10:</text>
<text class="inf2" x="134.4" y="61" fill="#30c0e0" stroke="#30c0e0" textLength="37.4" lengthAdjust="spacingAndGlyphs">1.0938</text>
<text class="inf2" x="180.6" y="61" fill="#b050d0" stroke="#b050d0" textLength="39.4" lengthAdjust="spacingAndGlyphs">MA20:</text>
<text class="inf2" x="223.8" y="61" fill="#b050d0" stroke="#b050d0" textLength="36.6" lengthAdjust="spacingAndGlyphs">1.0842</text>
<text class="inf" x="9.6" y="364.8" fill="#f03030" stroke="#f03030" textLength="79.4" lengthAdjust="spacingAndGlyphs">MACD:0.0000</text>
<text class="inf" x="98.5" y="364.8" fill="#4aa0f0" stroke="#4aa0f0" textLength="67.9" lengthAdjust="spacingAndGlyphs">DIFF:0.0000</text>
<text class="inf" x="175.4" y="364.8" fill="#f57820" stroke="#f57820" textLength="66" lengthAdjust="spacingAndGlyphs">DEA:0.0000</text>
<text class="inf" x="9.6" y="463.2" fill="#30c0e0" stroke="#30c0e0" textLength="56.8" lengthAdjust="spacingAndGlyphs">K:59.8513</text>
<text class="inf" x="75.8" y="463.2" fill="#8860d0" stroke="#8860d0" textLength="57.6" lengthAdjust="spacingAndGlyphs">D:59.8513</text>
<text class="inf" x="142.8" y="463.2" fill="#60b860" stroke="#60b860" textLength="54.6" lengthAdjust="spacingAndGlyphs">J:59.8513</text>
<text class="inf" x="9.6" y="559.8" fill="#f57820" stroke="#f57820" textLength="75.2" lengthAdjust="spacingAndGlyphs">RSI(6):0.0000</text>
<text class="inf" x="94.3" y="559.8" fill="#b050d0" stroke="#b050d0" textLength="82.5" lengthAdjust="spacingAndGlyphs">RSI(12):0.0000</text>
<text class="inf" x="186.2" y="559.8" fill="#60b860" stroke="#60b860" textLength="83" lengthAdjust="spacingAndGlyphs">RSI(24):0.0000</text>
</svg></body></html>
